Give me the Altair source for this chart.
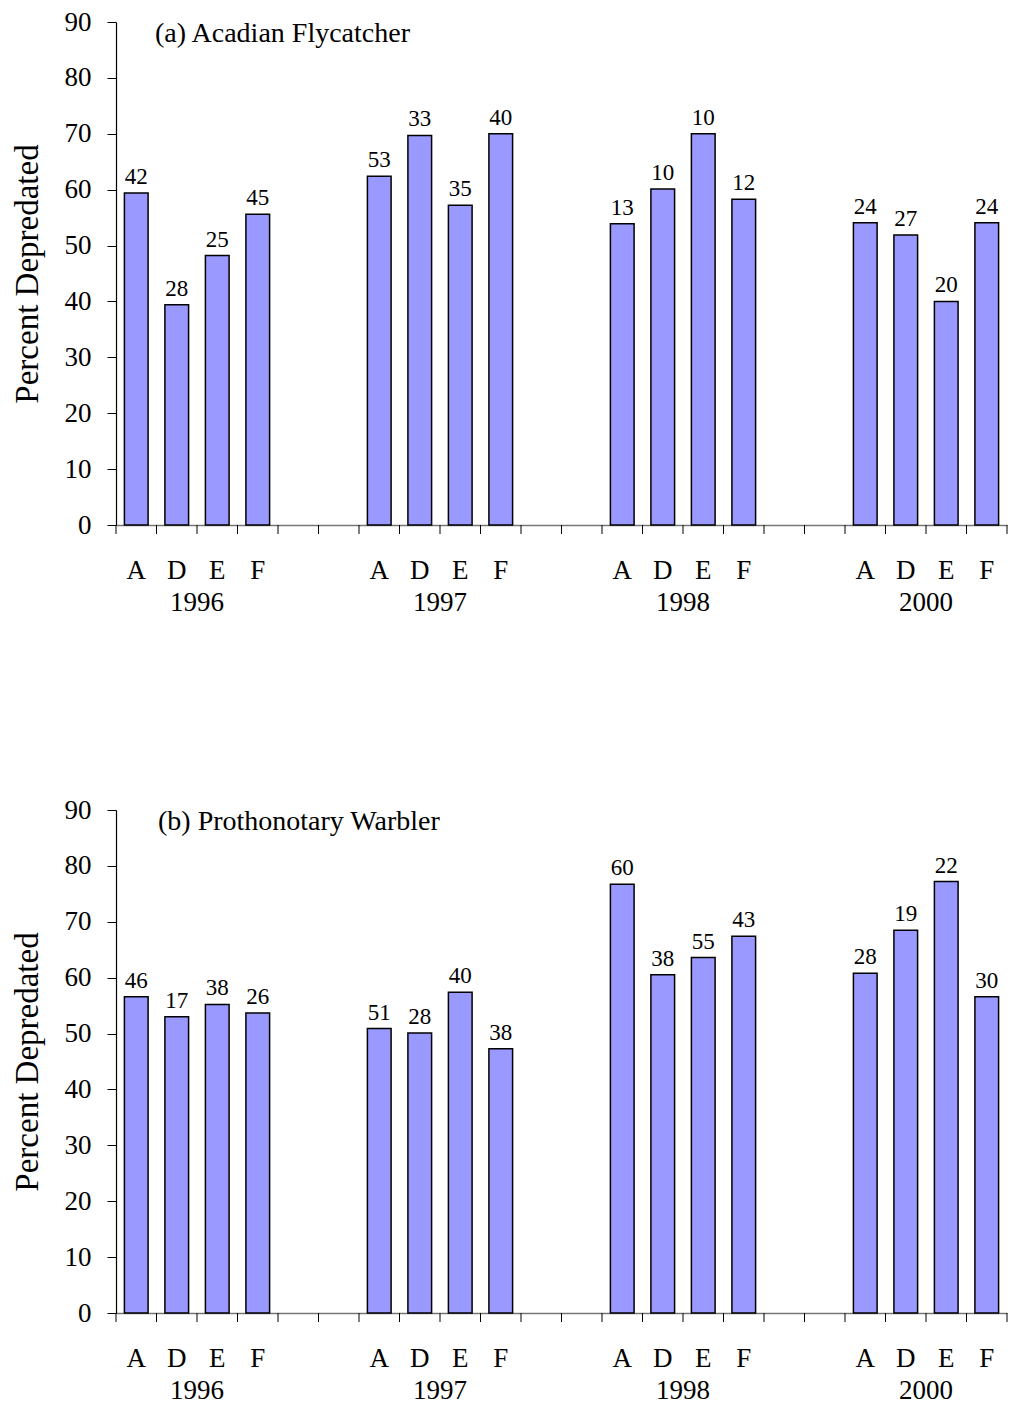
import altair as alt
import pandas as pd

years = ["1996", "1997", "1998", "2000"]
sites = ["A", "D", "E", "F"]

# (a) Acadian Flycatcher: percent depredated and sample size per site/year
acfl_pct = [59.4, 39.4, 48.2, 55.6,
            62.4, 69.7, 57.2, 70.0,
            53.9, 60.1, 70.0, 58.3,
            54.1, 51.9, 40.0, 54.1]
acfl_n = [42, 28, 25, 45,
          53, 33, 35, 40,
          13, 10, 10, 12,
          24, 27, 20, 24]

# (b) Prothonotary Warbler
prow_pct = [56.6, 53.0, 55.2, 53.7,
            50.9, 50.1, 57.4, 47.3,
            76.7, 60.5, 63.6, 67.4,
            60.8, 68.5, 77.2, 56.6]
prow_n = [46, 17, 38, 26,
          51, 28, 40, 38,
          60, 38, 55, 43,
          28, 19, 22, 30]

titles = ["(a) Acadian Flycatcher", "(b) Prothonotary Warbler"]
y_ticks = [0, 10, 20, 30, 40, 50, 60, 70, 80, 90]

# category slots on the x axis (two empty slots between year groups)
slots = []
for i, yr in enumerate(years):
    for s in sites:
        slots.append(f"{yr}-{s}")
    if i < len(years) - 1:
        slots += [f"gap{i}a", f"gap{i}b"]
bar_slots = [f"{yr}-{s}" for yr in years for s in sites]
bar_sites = [s for yr in years for s in sites]
year_slots = [f"{yr}-E" for yr in years]

FONT = "Liberation Serif"
W, H = 891, 503
STEP = W / len(slots)
PIN = 0.415


def panel(pct, n, title, title_dx):
    df = pd.DataFrame({"slot": bar_slots, "site": bar_sites, "pct": pct, "n": n})
    ydf = pd.DataFrame({"slot": year_slots, "year": years})
    tdf = pd.DataFrame({"slot": [bar_slots[0]], "t": [title]})
    sdf = pd.DataFrame({"slot": slots})
    edf = pd.DataFrame({"slot": [slots[-1]]})

    xscale = alt.Scale(domain=slots, paddingInner=PIN, paddingOuter=PIN / 2)
    yscale = alt.Scale(domain=[0, 90], nice=False)
    xax = alt.Axis(
        title=None, labels=False, ticks=False, grid=False,
        domainColor="#777777", domainWidth=1.5,
    )
    yax = alt.Axis(
        title="Percent Depredated", values=y_ticks,
        labelFont=FONT, labelFontSize=27, labelColor="black", labelPadding=16,
        tickSize=9, tickColor="black", domainColor="black",
        domainWidth=1.2, grid=False, titleFont=FONT, titleFontSize=33,
        titleFontWeight="normal", titleColor="black", titlePadding=20,
    )

    bars = alt.Chart(df).mark_bar(
        color="#9999ff", stroke="black", strokeWidth=1.5,
    ).encode(
        x=alt.X("slot:N", scale=xscale, axis=xax),
        y=alt.Y("pct:Q", scale=yscale, axis=yax),
    )
    counts = alt.Chart(df).mark_text(
        font=FONT, fontSize=23, baseline="alphabetic", dy=-9, color="black",
    ).encode(
        x=alt.X("slot:N"),
        y=alt.Y("pct:Q"),
        text=alt.Text("n:Q"),
    )
    # tick marks at the slot boundaries
    ticks = alt.Chart(sdf).mark_rule(
        color="black", strokeWidth=1, xOffset=-STEP / 2,
    ).encode(
        x=alt.X("slot:N"),
        y=alt.value(H),
        y2=alt.value(H + 9),
    )
    end_tick = alt.Chart(edf).mark_rule(
        color="black", strokeWidth=1, xOffset=STEP / 2,
    ).encode(
        x=alt.X("slot:N"),
        y=alt.value(H),
        y2=alt.value(H + 9),
    )
    letters = alt.Chart(df).mark_text(
        font=FONT, fontSize=27, baseline="middle", color="black",
    ).encode(
        x=alt.X("slot:N"),
        y=alt.value(H + 46),
        text=alt.Text("site:N"),
    )
    yrs = alt.Chart(ydf).mark_text(
        font=FONT, fontSize=27, baseline="middle", color="black",
        dx=-STEP / 2,
    ).encode(
        x=alt.X("slot:N"),
        y=alt.value(H + 78),
        text=alt.Text("year:N"),
    )
    ttl = alt.Chart(tdf).mark_text(
        font=FONT, fontSize=28, align="left", baseline="alphabetic", color="black",
        dx=-STEP / 2 + title_dx,
    ).encode(
        x=alt.X("slot:N"),
        y=alt.value(20),
        text=alt.Text("t:N"),
    )
    return alt.layer(bars, counts, ticks, end_tick, letters, yrs, ttl).properties(
        width=W, height=H
    )


chart = alt.vconcat(
    panel(acfl_pct, acfl_n, titles[0], 39),
    panel(prow_pct, prow_n, titles[1], 42),
    spacing=180,
).properties(
    background="white",
    padding={"left": 3, "top": 0, "right": 0, "bottom": 0},
).configure_view(stroke=None)

chart.save("out.html", embed_options={"renderer": "svg", "actions": False})
